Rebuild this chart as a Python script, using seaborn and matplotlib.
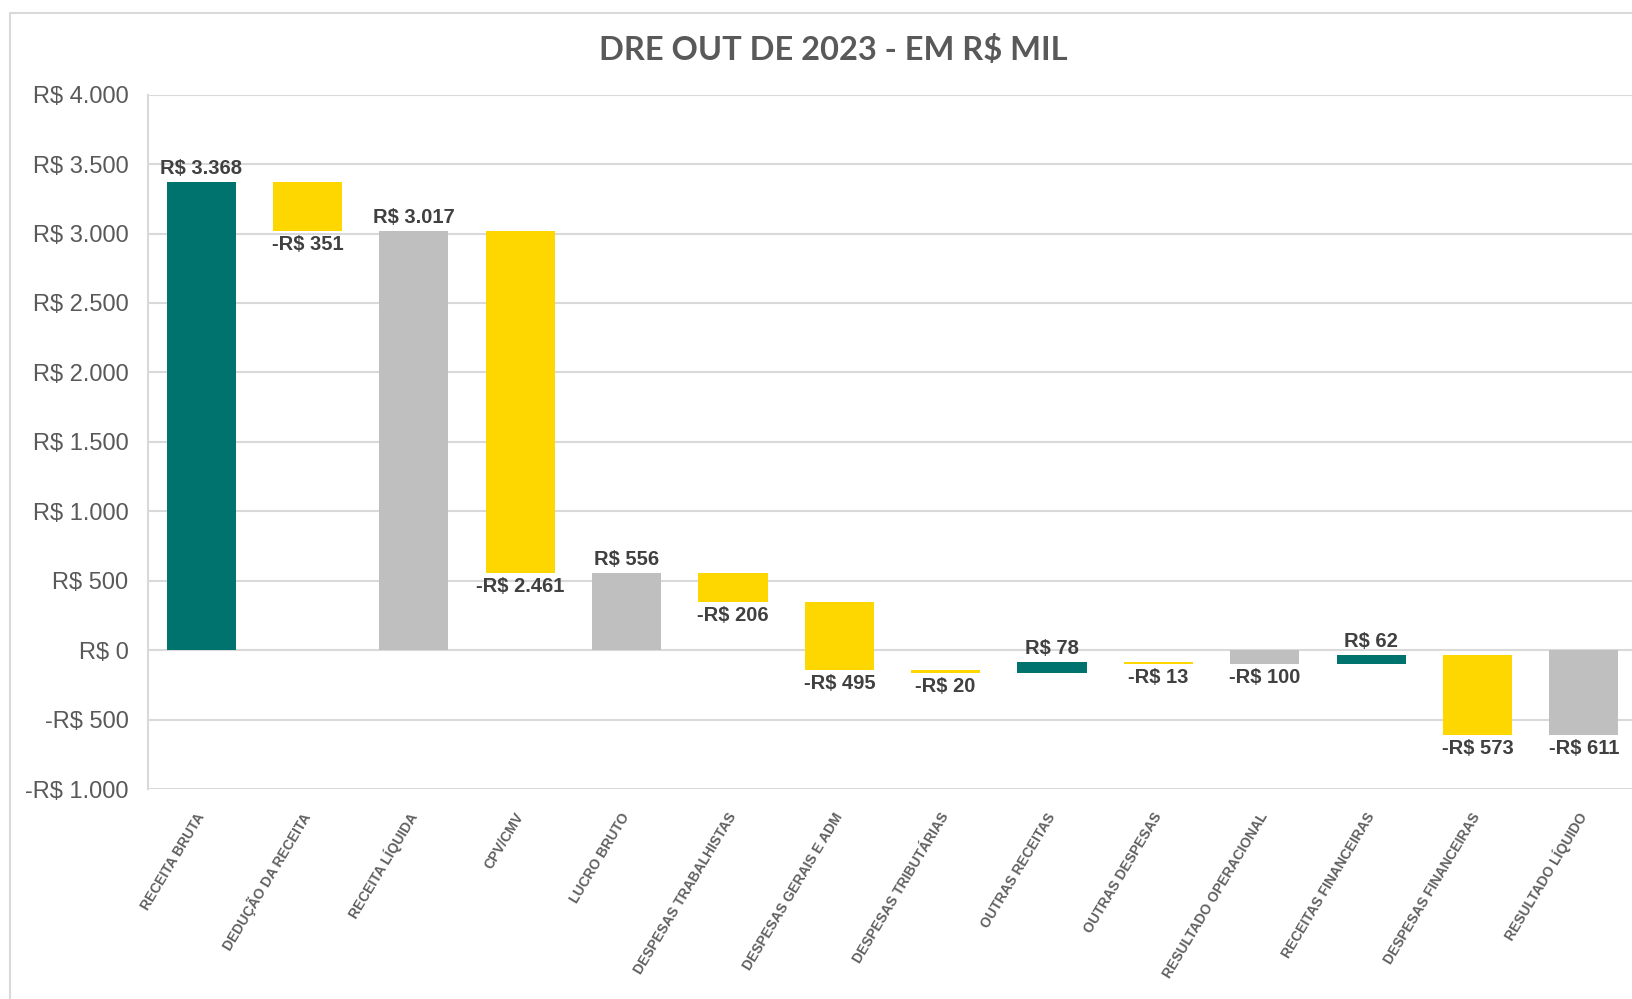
import matplotlib
matplotlib.use("Agg")
import matplotlib.pyplot as plt
import seaborn as sns
import pandas as pd
from matplotlib.patches import Rectangle
from matplotlib.ticker import FixedLocator, FuncFormatter

# ---------------- data ----------------
categories = ["RECEITA BRUTA", "DEDUÇÃO DA RECEITA", "RECEITA LÍQUIDA", "CPV/CMV",
              "LUCRO BRUTO", "DESPESAS TRABALHISTAS", "DESPESAS GERAIS E ADM",
              "DESPESAS TRIBUTÁRIAS", "OUTRAS RECEITAS", "OUTRAS DESPESAS",
              "RESULTADO OPERACIONAL", "RECEITAS FINANCEIRAS", "DESPESAS FINANCEIRAS",
              "RESULTADO LÍQUIDO"]
values = [3368, -351, 3017, -2461, 556, -206, -495, -20, 78, -13, -100, 62, -573, -611]
kinds = ["delta", "delta", "total", "delta", "total", "delta", "delta",
         "delta", "delta", "delta", "total", "delta", "delta", "total"]
y_ticks = [-1000, -500, 0, 500, 1000, 1500, 2000, 2500, 3000, 3500, 4000]
title = "DRE OUT DE 2023 - EM R$ MIL"

# ---------------- style ----------------
TEAL = "#00736F"
YELLOW = "#FFD700"
GRAY = "#BFBFBF"
GRID = "#D9D9D9"
TXT = "#595959"
LBL = "#404040"

sns.set_theme(style="white")
plt.rcParams["font.family"] = ["Liberation Sans", "DejaVu Sans"]


def brl(v):
    s = f"{abs(int(round(v))):,}".replace(",", ".")
    return ("-R$ " if v < 0 else "R$ ") + s


# waterfall geometry from the values
bases, colors = [], []
running = 0
for v, k in zip(values, kinds):
    if k == "total":
        bases.append(0)
        running = v
        colors.append(GRAY)
    else:
        bases.append(running)
        running += v
        colors.append(TEAL if v >= 0 else YELLOW)

df = pd.DataFrame({"cat": categories, "val": values, "base": bases, "color": colors})

W, H = 1632, 999
fig = plt.figure(figsize=(W / 100, H / 100), dpi=100)
fig.patch.set_facecolor("white")

# outer chart border
fig.patches.append(Rectangle((10 / W, -0.05), 1.1, 1 - 12.5 / H + 0.05,
                             transform=fig.transFigure, fill=False,
                             edgecolor=GRID, linewidth=1.5))

ax = fig.add_axes([148 / W, 1 - 789 / H, (1637 - 148) / W, (789 - 94.7) / H])

for _, r in df.iterrows():
    sns.barplot(x=[r["cat"]], y=[r["val"]], order=categories, color=r["color"],
                bottom=r["base"], width=0.65, ax=ax, saturation=1,
                linewidth=0, errorbar=None)

ax.set_xlim(-0.5, len(categories) - 0.5)
ax.set_ylim(-1000, 4000)
ax.yaxis.set_major_locator(FixedLocator(y_ticks))
ax.yaxis.set_major_formatter(FuncFormatter(lambda v, p: brl(v)))
ax.set_axisbelow(True)
ax.yaxis.grid(True, color=GRID, linewidth=1.5)
ax.xaxis.grid(False)
for s in ["top", "right", "bottom"]:
    ax.spines[s].set_visible(False)
ax.spines["left"].set_color(GRID)
ax.spines["left"].set_linewidth(1.5)
ax.set_xlabel("")
ax.set_ylabel("")
ax.tick_params(axis="y", length=0, pad=14, labelsize=17, labelcolor=TXT)
ax.tick_params(axis="x", length=0, pad=18)
ax.set_xticks(range(len(categories)))
ax.set_xticklabels(categories, rotation=59, ha="right", va="center",
                   rotation_mode="anchor", fontsize=10, fontweight="bold",
                   color="#606060")

# data labels
for i, (v, b) in enumerate(zip(values, bases)):
    end = b + v
    if v >= 0:
        ax.annotate(brl(v), (i, end), xytext=(0, 3), textcoords="offset points",
                    ha="center", va="bottom", fontsize=14.5, fontweight="bold", color=LBL)
    else:
        ax.annotate(brl(v), (i, end), xytext=(0, -3), textcoords="offset points",
                    ha="center", va="top", fontsize=14.5, fontweight="bold", color=LBL)

fig.text(833 / W, 1 - 50 / H, title, ha="center", va="center", fontsize=23.5,
         fontweight="bold", color=TXT, family=["Lato", "DejaVu Sans"])

fig.savefig("out.png", dpi=100, facecolor="white")
